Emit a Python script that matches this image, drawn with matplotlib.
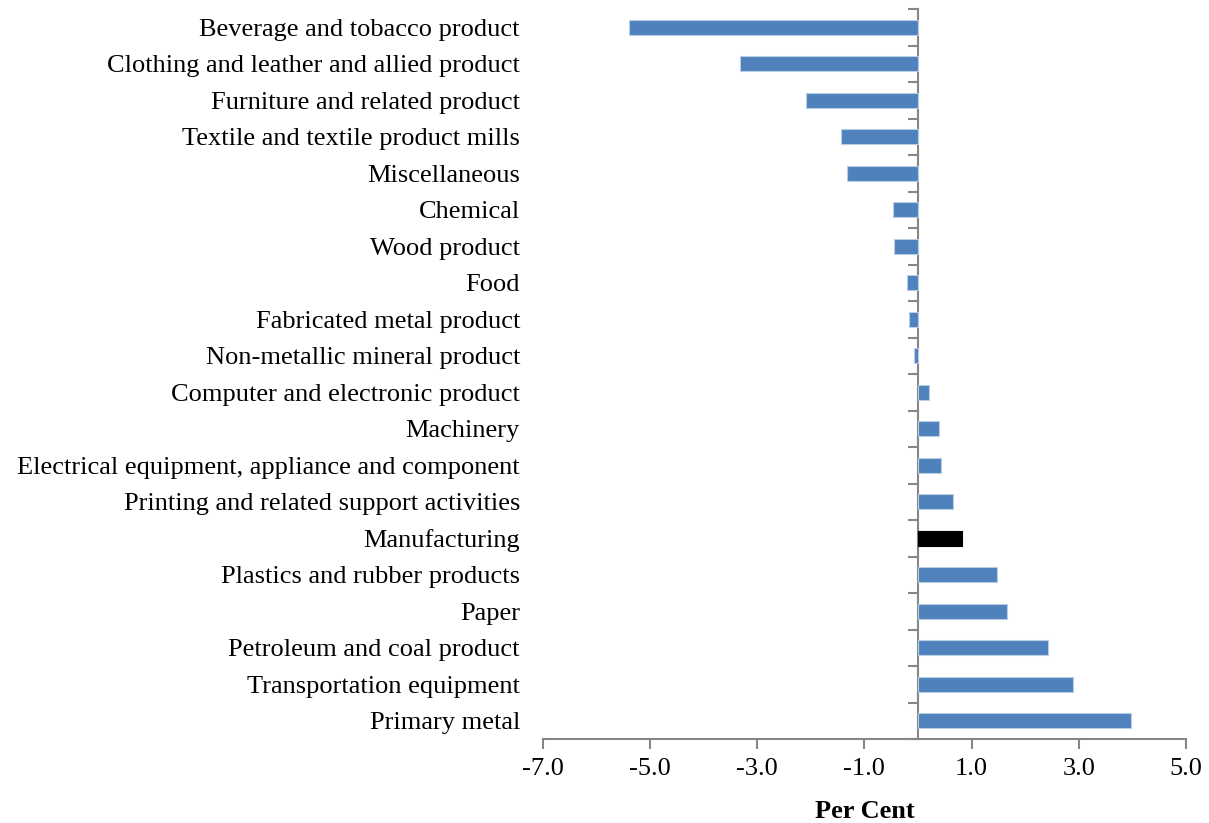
import numpy as np
import matplotlib.pyplot as plt

# industries, top to bottom as in the chart
industries = [
    'Beverage and tobacco product',
    'Clothing and leather and allied product',
    'Furniture and related product',
    'Textile and textile product mills',
    'Miscellaneous',
    'Chemical',
    'Wood product',
    'Food',
    'Fabricated metal product',
    'Non-metallic mineral product',
    'Computer and electronic product',
    'Machinery',
    'Electrical equipment, appliance and component',
    'Printing and related support activities',
    'Manufacturing',
    'Plastics and rubber products',
    'Paper',
    'Petroleum and coal product',
    'Transportation equipment',
    'Primary metal',
]
# per cent change
values = [-5.39, -3.32, -2.09, -1.44, -1.33, -0.47, -0.45, -0.21, -0.17, -0.07,
          0.21, 0.39, 0.43, 0.65, 0.82, 1.47, 1.66, 2.43, 2.89, 3.98]
xticks = [-7.0, -5.0, -3.0, -1.0, 1.0, 3.0, 5.0]

plt.rcParams['font.family'] = ['Liberation Serif', 'DejaVu Serif']
axis_grey = '#868686'

fig = plt.figure(figsize=(12.09, 8.23), dpi=100)
ax = fig.add_axes([0.449, 0.102, 0.532, 0.887])

n = len(industries)
ypos = np.arange(n)[::-1]
colors = ['black' if name == 'Manufacturing' else '#4F81BD' for name in industries]
edges = ['black' if name == 'Manufacturing' else '#B9CDE5' for name in industries]
ax.barh(ypos, values, height=0.42, color=colors, edgecolor=edges, linewidth=0.8, zorder=3)

ax.set_xlim(-7, 5)
ax.set_ylim(-0.5, n - 0.5)
ax.set_xticks(xticks)
ax.set_xticklabels([f'{t:.1f}' for t in xticks], fontsize=19)
ax.set_yticks(ypos)
ax.set_yticklabels(industries, fontsize=19)
ax.tick_params(axis='y', length=0, pad=16.5)
ax.tick_params(axis='x', direction='out', length=7, width=1.5, color=axis_grey, pad=7)

for side in ['top', 'right', 'left']:
    ax.spines[side].set_visible(False)
ax.spines['bottom'].set_color(axis_grey)
ax.spines['bottom'].set_linewidth(1.5)

# vertical axis line crossing at zero, ticks between categories
sec = ax.secondary_yaxis(7 / 12)
sec.set_alignment('left')
for s in sec.spines.values():
    s.set_color(axis_grey)
    s.set_linewidth(1.5)
sec.set_yticks(np.arange(n + 1) - 0.5)
sec.set_yticklabels([])
sec.tick_params(axis='y', direction='out', length=7, width=1.5, color=axis_grey)

ax.set_xlabel('Per Cent', fontsize=19, fontweight='bold', labelpad=14)

fig.savefig('out.png', dpi=100)
